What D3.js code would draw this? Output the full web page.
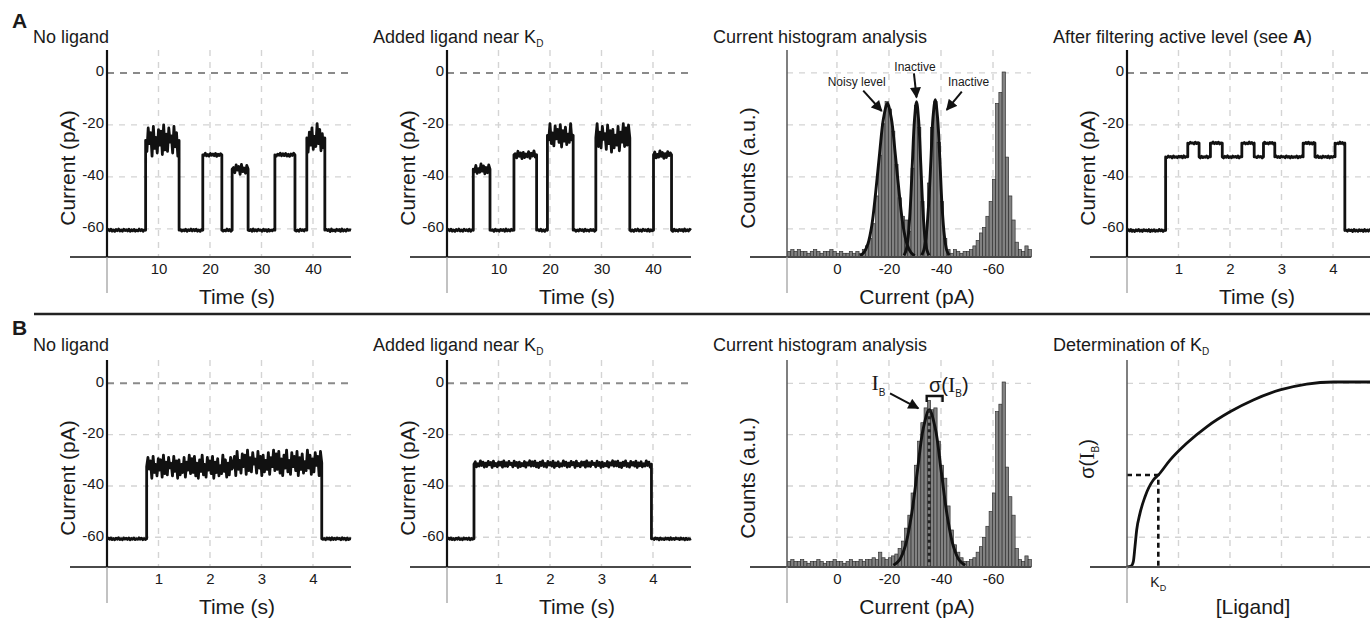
<!DOCTYPE html>
<html>
<head>
<meta charset="utf-8">
<script src="https://cdnjs.cloudflare.com/ajax/libs/d3/7.8.5/d3.min.js"></script>
<style>
  body { margin: 0; background: #fff; }
</style>
</head>
<body>
<div id="chart"></div>
<script>
// ---- data ----
var timeTicksLong = [10, 20, 30, 40];
var timeTicksShort = [1, 2, 3, 4];
var currentTicks = [0, -20, -40, -60];
var histTicks = [0, -20, -40, -60];

// current traces: [start (s), end (s), level (pA), noise amplitude (pA)]
var traceA1 = [[0, 7.5, -60.5, 0.45], [7.5, 14.0, -26, 6], [14.0, 18.6, -60.5, 0.45],
  [18.6, 22.3, -31.5, 0.6], [22.3, 24.3, -60.5, 0.45], [24.3, 27.4, -37, 2],
  [27.4, 32.6, -60.5, 0.45], [32.6, 36.5, -31.5, 0.6], [36.5, 38.8, -60.5, 0.45],
  [38.8, 42.3, -25, 5.5], [42.3, 47.4, -60.5, 0.5]];
var traceA2 = [[0, 5.1, -60.5, 0.45], [5.1, 8.35, -37, 2], [8.35, 13.0, -60.5, 0.45],
  [13.0, 17.4, -31.5, 1.5], [17.4, 19.5, -60.5, 0.45], [19.5, 24.5, -24, 4.5],
  [24.5, 28.9, -60.5, 0.45], [28.9, 35.5, -25, 5.5], [35.5, 40.1, -60.5, 0.45],
  [40.1, 43.6, -31.5, 1.5], [43.6, 47.4, -60.5, 0.45]];
var traceA4 = [[0, 0.75, -60.6, 0.4], [0.75, 1.18, -32.3, 0.4], [1.18, 1.40, -27, 0.4],
  [1.40, 1.62, -32.3, 0.4], [1.62, 1.85, -27, 0.4], [1.85, 2.23, -32.3, 0.4],
  [2.23, 2.47, -27, 0.4], [2.47, 2.65, -32.3, 0.4], [2.65, 2.87, -27, 0.4],
  [2.87, 3.42, -32.3, 0.4], [3.42, 3.65, -27, 0.4], [3.65, 4.04, -32.3, 0.4],
  [4.04, 4.23, -27, 0.4], [4.23, 4.74, -60.6, 0.4]];
var traceB1 = [[0, 0.77, -60.6, 0.4], [0.77, 2.45, -32.5, 4.5], [2.45, 4.17, -31, 5], [4.17, 4.74, -60.6, 0.45]];
var traceB2 = [[0, 0.524, -60.6, 0.4], [0.524, 3.97, -31.5, 1.3], [3.97, 4.74, -60.6, 0.4]];

// hand-typed noise shape used for the jitter of each level
var jitter = [0.7, -0.5, 0.9, -0.8, 0.3, -1.0, 0.6, -0.4, 1.0, -0.7, 0.2, -0.9, 0.8, -0.3, 0.5, -0.6,
  0.9, -1.0, 0.4, -0.5, 0.7, -0.8, 0.1, -0.6, 1.0, -0.4, 0.6, -0.9, 0.3, -0.7, 0.8, -0.2,
  0.5, -1.0, 0.9, -0.5, 0.2, -0.8, 0.7, -0.3, 0.6, -0.9, 1.0, -0.6, 0.4, -0.7, 0.8, -0.1,
  0.3, -0.8, 0.9, -0.4, 0.5, -1.0, 0.6, -0.7, 0.2, -0.5, 0.8, -0.9, 0.4, -0.3, 1.0, -0.6];

// current histograms (bins of 1.25 pA starting at +19 pA, counts in a.u.)
var binStart = 19, binWidth = 1.25;
var histA = [3, 4, 3, 4, 3, 3, 2, 3, 4, 3,
  2, 3, 3, 4, 3, 2, 3, 2, 2, 3,
  2, 3, 2, 4, 6, 10, 18, 33, 55, 72,
  84, 80, 68, 50, 32, 22, 20, 14, 48, 82,
  70, 30, 14, 40, 70, 84, 62, 30, 10, 4,
  2, 4, 3, 2, 3, 3, 4, 6, 9, 13,
  16, 22, 30, 42, 83, 89, 100, 54, 33, 20,
  8, 4, 3, 6, 4];
var histB = [3, 4, 3, 3, 4, 3, 2, 3, 3, 4,
  3, 2, 3, 3, 4, 3, 3, 2, 3, 4,
  3, 3, 4, 3, 4, 4, 5, 4, 8, 5,
  4, 5, 6, 7, 10, 14, 21, 28, 40, 55,
  68, 78, 86, 90, 85, 86, 68, 55, 48, 33,
  20, 12, 8, 5, 3, 3, 4, 5, 8, 11,
  16, 22, 30, 40, 84, 88, 100, 54, 38, 28,
  10, 4, 3, 6, 4];

// fitted peaks drawn over the histograms (current, counts)
var fitNoisyI = [-8.9, -10.4, -11.9, -13.4, -14.9, -16.4, -17.9, -19.4, -20.9, -22.4, -23.9, -25.4, -26.9, -28.4, -29.9];
var fitNoisyC = [0.7, 2.5, 7, 17, 35, 56, 75, 83, 75, 56, 35, 17, 7, 2.5, 0.7];
var fitInact1I = [-25.8, -26.6, -27.4, -28.2, -29.0, -29.8, -30.6, -31.4, -32.2, -33.0, -33.8, -34.6, -35.4];
var fitInact1C = [0.9, 3.7, 11, 27, 51, 74, 84, 74, 51, 27, 11, 3.7, 0.9];
var fitInact2I = [-32.6, -33.4, -34.3, -35.2, -36.1, -36.9, -37.8, -38.7, -39.6, -40.4, -41.3, -42.2, -43.1];
var fitInact2C = [1, 3.7, 11.5, 27.5, 51.6, 75, 85, 75, 51.6, 27.5, 11.5, 3.7, 1];
var fitBI = [-21.7, -24, -26.3, -28.6, -30.9, -33.2, -35.5, -37.8, -40.1, -42.4, -44.7, -47, -49.3];
var fitBC = [0.9, 3.7, 11.5, 27.6, 51.6, 75, 85, 75, 51.6, 27.6, 11.5, 3.7, 0.9];
var peakB = -35.5, peakBCount = 85;

// sigma(I_B) versus ligand concentration
var kdLigand = [0, 0.08, 0.123, 0.155, 0.188, 0.252, 0.35, 0.511, 0.608, 0.835, 1.159, 1.548, 2.0, 2.453, 2.971, 3.489, 4.01, 4.75];
var kdSigma = [0, 0.005, 0.029, 0.11, 0.2, 0.29, 0.38, 0.47, 0.497, 0.578, 0.669, 0.758, 0.839, 0.903, 0.957, 0.989, 1.0, 1.0];
var kdValue = 0.608, kdHalf = 0.497;

// ---- drawing ----
var font = '"Liberation Sans", Arial, Helvetica, sans-serif';
var ink = "#1a1a1a";
var svg = d3.select("#chart").append("svg")
  .attr("width", 1370).attr("height", 618)
  .attr("font-family", font);

svg.append("defs").append("marker")
  .attr("id", "arrow").attr("viewBox", "0 0 10 10")
  .attr("refX", 9).attr("refY", 5)
  .attr("markerUnits", "userSpaceOnUse")
  .attr("markerWidth", 12).attr("markerHeight", 11)
  .attr("orient", "auto")
  .append("path").attr("d", "M0,0L10,5L0,10z").attr("fill", "#111");

var currentDomains = [[-70.8, 8.8], [-71.6, 9.1]];

function panel(col, row) {
  var left = 107 + 340 * col, bottom = 257 + 310 * row;
  return {
    left: left, right: left + 244, bottom: bottom, top: bottom - 207, row: row,
    g: svg.append("g"),
    cur: d3.scaleLinear().domain(currentDomains[row]).range([bottom, bottom - 207])
  };
}

function frame(p, xs, xTicks, darkZero) {
  p.g.selectAll("line.vgrid").data(xTicks).join("line").attr("class", "vgrid")
    .attr("x1", d => xs(d)).attr("x2", d => xs(d))
    .attr("y1", p.top).attr("y2", p.bottom)
    .attr("stroke", "#d4d4d4").attr("stroke-width", 1.4).attr("stroke-dasharray", "6,6");
  p.g.selectAll("line.hgrid").data(currentTicks).join("line").attr("class", "hgrid")
    .attr("x1", p.left).attr("x2", p.right + (p.right > 1300 ? 30 : 0))
    .attr("y1", d => p.cur(d)).attr("y2", d => p.cur(d))
    .attr("stroke", d => (darkZero && d === 0) ? "#8a8a8a" : "#d4d4d4")
    .attr("stroke-width", d => (darkZero && d === 0) ? 2 : 1.4)
    .attr("stroke-dasharray", d => (darkZero && d === 0) ? "7,6" : "6,6");
}

function axes(p, xs, xTicks, yTicks, strong) {
  p.g.append("line").attr("x1", p.left - 37).attr("x2", p.right + (p.right > 1300 ? 30 : 0))
    .attr("y1", p.bottom).attr("y2", p.bottom)
    .attr("stroke", "#4a4a4a").attr("stroke-width", 2);
  p.g.append("line").attr("x1", p.left).attr("x2", p.left)
    .attr("y1", p.top).attr("y2", p.bottom)
    .attr("stroke", strong ? "#111" : "#555").attr("stroke-width", strong ? 2.2 : 1.5);
  p.g.append("line").attr("x1", p.left).attr("x2", p.left)
    .attr("y1", p.bottom).attr("y2", p.bottom + 36)
    .attr("stroke", "#999").attr("stroke-width", 1.2);
  if (xTicks) {
    p.g.append("g").attr("transform", "translate(0," + p.bottom + ")")
      .call(d3.axisBottom(xs).tickValues(xTicks).tickSize(0).tickPadding(6).tickFormat(d => String(d)))
      .call(a => a.select(".domain").remove())
      .attr("font-size", 15).attr("font-family", font)
      .selectAll("text").attr("fill", ink);
  }
  if (yTicks) {
    p.g.append("g").attr("transform", "translate(" + p.left + ",0)")
      .call(d3.axisLeft(p.cur).tickValues(yTicks).tickSize(0).tickPadding(3).tickFormat(d => String(d)))
      .call(a => a.select(".domain").remove())
      .attr("font-size", 15).attr("font-family", font)
      .selectAll("text").attr("fill", ink).attr("dy", "0.2em");
  }
}

function trace(p, xs, segs) {
  var pts = [], k = 0;
  segs.forEach(function (s) {
    var t0 = s[0], t1 = s[1], level = s[2], amp = s[3];
    var n = Math.max(2, Math.round((xs(t1) - xs(t0)) / 1.3));
    for (var i = 0; i <= n; i++) {
      var edge = (i === 0 || i === n);
      var v = edge ? level : level + amp * jitter[k++ % jitter.length];
      pts.push([xs(t0 + (t1 - t0) * i / n), p.cur(v)]);
    }
  });
  p.g.append("path").attr("d", d3.line()(pts))
    .attr("fill", "none").attr("stroke", "#111").attr("stroke-width", 2.8)
    .attr("stroke-linejoin", "round");
}

function bars(p, hx, hy, counts) {
  p.g.append("g").selectAll("rect").data(counts).join("rect")
    .attr("x", (d, i) => hx(binStart - i * binWidth))
    .attr("width", (d, i) => hx(binStart - (i + 1) * binWidth) - hx(binStart - i * binWidth))
    .attr("y", d => hy(d)).attr("height", d => p.bottom - hy(d))
    .attr("fill", "#828282").attr("stroke", "#333").attr("stroke-width", 0.7);
}

function fit(p, hx, hy, xsArr, ysArr) {
  var line = d3.line().x(d => hx(d[0])).y(d => hy(d[1])).curve(d3.curveCatmullRom);
  p.g.append("path").attr("d", line(d3.zip(xsArr, ysArr)))
    .attr("fill", "none").attr("stroke", "#111").attr("stroke-width", 2.9);
}

function title(p, row, build) {
  var t = p.g.append("text").attr("x", p.left - 74).attr("y", row === 0 ? 43 : 351)
    .attr("font-size", 18).attr("fill", ink);
  build(t);
}
function withKd(t, main) {
  t.append("tspan").text(main);
  t.append("tspan").attr("font-size", 10).attr("dy", 4).text("D");
}

function ylabel(p, str, y) {
  p.g.append("text").attr("transform", "translate(" + (p.left - 32) + "," + y + ") rotate(-90)")
    .attr("text-anchor", "middle").attr("font-size", 21).attr("fill", ink).text(str);
}
function xlabel(p, str) {
  p.g.append("text").attr("x", p.left + 130).attr("y", p.bottom + 47)
    .attr("text-anchor", "middle").attr("font-size", 21).attr("fill", ink).text(str);
}

function arrow(g, x1, y1, x2, y2) {
  g.append("line").attr("x1", x1).attr("y1", y1).attr("x2", x2).attr("y2", y2)
    .attr("stroke", "#111").attr("stroke-width", 2).attr("marker-end", "url(#arrow)");
}

// panel letters and separator
svg.append("text").attr("x", 12).attr("y", 28).attr("font-size", 21).attr("font-weight", "bold").attr("fill", ink).text("A");
svg.append("text").attr("x", 12).attr("y", 335).attr("font-size", 21).attr("font-weight", "bold").attr("fill", ink).text("B");
svg.append("line").attr("x1", 34).attr("x2", 1370).attr("y1", 314).attr("y2", 314)
  .attr("stroke", "#222").attr("stroke-width", 2.5);

// ---- time-trace panels ----
function tracePanel(col, row, segs, longTime, titleFn) {
  var p = panel(col, row);
  var xs = d3.scaleLinear().domain([0, longTime ? 47.38 : 4.738]).range([p.left, p.right]);
  var ticks = longTime ? timeTicksLong : timeTicksShort;
  frame(p, xs, ticks, true);
  trace(p, xs, segs);
  axes(p, xs, ticks, currentTicks, true);
  title(p, row, titleFn);
  ylabel(p, "Current (pA)", 168 + 310 * row);
  xlabel(p, "Time (s)");
  return p;
}

tracePanel(0, 0, traceA1, true, t => t.text("No ligand"));
tracePanel(1, 0, traceA2, true, t => withKd(t, "Added ligand near K"));
tracePanel(3, 0, traceA4, false, function (t) {
  t.append("tspan").text("After filtering active level (see ");
  t.append("tspan").attr("font-weight", "bold").text("A");
  t.append("tspan").text(")");
});
tracePanel(0, 1, traceB1, false, t => t.text("No ligand"));
tracePanel(1, 1, traceB2, false, t => withKd(t, "Added ligand near K"));

// ---- histogram panels ----
function histPanel(row, counts) {
  var p = panel(2, row);
  var hx = d3.scaleLinear().domain([19.2, -74.6]).range([p.left, p.right]);
  var hy = d3.scaleLinear().domain([0, 100]).range([p.bottom, p.bottom - 185]);
  frame(p, hx, histTicks, false);
  bars(p, hx, hy, counts);
  p.hx = hx; p.hy = hy;
  title(p, row, t => t.text("Current histogram analysis"));
  ylabel(p, "Counts (a.u.)", 168 + 310 * row);
  xlabel(p, "Current (pA)");
  return p;
}

var pA3 = histPanel(0, histA);
fit(pA3, pA3.hx, pA3.hy, fitNoisyI, fitNoisyC);
fit(pA3, pA3.hx, pA3.hy, fitInact1I, fitInact1C);
fit(pA3, pA3.hx, pA3.hy, fitInact2I, fitInact2C);
axes(pA3, pA3.hx, histTicks, null, false);
(function () {
  var g = pA3.g, hx = pA3.hx, hy = pA3.hy;
  g.append("text").attr("x", hx(-7.6)).attr("y", hy(92.4)).attr("text-anchor", "middle")
    .attr("font-size", 12).attr("fill", ink).text("Noisy level");
  arrow(g, hx(-10.1), hy(89.9), hx(-17.2), hy(78.9));
  g.append("text").attr("x", hx(-30)).attr("y", hy(100.7)).attr("text-anchor", "middle")
    .attr("font-size", 12).attr("fill", ink).text("Inactive");
  arrow(g, hx(-29.6), hy(99.2), hx(-30.6), hy(86.3));
  g.append("text").attr("x", hx(-50.6)).attr("y", hy(92.4)).attr("text-anchor", "middle")
    .attr("font-size", 12).attr("fill", ink).text("Inactive");
  arrow(g, hx(-48), hy(89.4), hx(-42.2), hy(79.5));
})();

var pB3 = histPanel(1, histB);
fit(pB3, pB3.hx, pB3.hy, fitBI, fitBC);
(function () {
  var g = pB3.g, hx = pB3.hx, hy = pB3.hy;
  g.append("line").attr("x1", hx(peakB)).attr("x2", hx(peakB))
    .attr("y1", hy(peakBCount)).attr("y2", hy(0))
    .attr("stroke", "#222").attr("stroke-width", 3).attr("stroke-dasharray", "3,3.5");
  var ib = g.append("text").attr("x", hx(-13.3)).attr("y", hy(95.7)).attr("fill", ink);
  ib.append("tspan").attr("font-family", '"Liberation Serif", serif').attr("font-size", 22).text("I");
  ib.append("tspan").attr("font-size", 10).attr("dy", 6).text("B");
  arrow(g, hx(-20.4), hy(93.9), hx(-31.3), hy(85.8));
  var sg = g.append("text").attr("x", hx(-35.4)).attr("y", hy(94.8)).attr("fill", ink).attr("font-size", 20);
  sg.append("tspan").text("σ(");
  sg.append("tspan").attr("font-family", '"Liberation Serif", serif').attr("font-size", 22).text("I");
  sg.append("tspan").attr("font-size", 10).attr("dy", 5).text("B");
  sg.append("tspan").attr("dy", -5).text(")");
  g.append("path")
    .attr("d", "M" + hx(-34.5) + "," + hy(89.2) + "V" + hy(92.4) + "H" + hx(-40.6) + "V" + hy(89.2))
    .attr("fill", "none").attr("stroke", "#111").attr("stroke-width", 2.4);
})();
axes(pB3, pB3.hx, histTicks, null, false);

// ---- K_D determination ----
(function () {
  var p = panel(3, 1);
  var lx = d3.scaleLinear().domain([0, 4.738]).range([p.left, p.right]);
  var sy = d3.scaleLinear().domain([0, 1]).range([p.bottom, p.bottom - 185]);
  frame(p, lx, timeTicksShort, false);
  p.g.append("path")
    .attr("d", d3.line().x(d => lx(d[0])).y(d => sy(d[1])).curve(d3.curveMonotoneX)(d3.zip(kdLigand, kdSigma)))
    .attr("fill", "none").attr("stroke", "#111").attr("stroke-width", 2.8);
  p.g.append("path")
    .attr("d", "M" + lx(0) + "," + sy(kdHalf) + "H" + lx(kdValue) + "V" + sy(0))
    .attr("fill", "none").attr("stroke", "#111").attr("stroke-width", 2.6).attr("stroke-dasharray", "5,4");
  axes(p, lx, null, null, false);
  var kl = p.g.append("text").attr("x", lx(kdValue) - 8).attr("y", p.bottom + 20).attr("font-size", 14).attr("fill", ink);
  withKd(kl, "K");
  kl.select("tspan:last-child").attr("font-size", 9);
  title(p, 1, t => withKd(t, "Determination of K"));
  var yl = p.g.append("text").attr("transform", "translate(" + (p.left - 33) + ",459) rotate(-90)")
    .attr("text-anchor", "middle").attr("font-size", 20).attr("fill", ink);
  yl.append("tspan").text("σ(");
  yl.append("tspan").attr("font-family", '"Liberation Serif", serif').attr("font-size", 22).text("I");
  yl.append("tspan").attr("font-size", 10).attr("dy", 5).text("B");
  yl.append("tspan").attr("dy", -5).text(")");
  p.g.append("text").attr("x", p.left + 126).attr("y", p.bottom + 47)
    .attr("text-anchor", "middle").attr("font-size", 21).attr("fill", ink).text("[Ligand]");
})();
</script>
</body>
</html>
